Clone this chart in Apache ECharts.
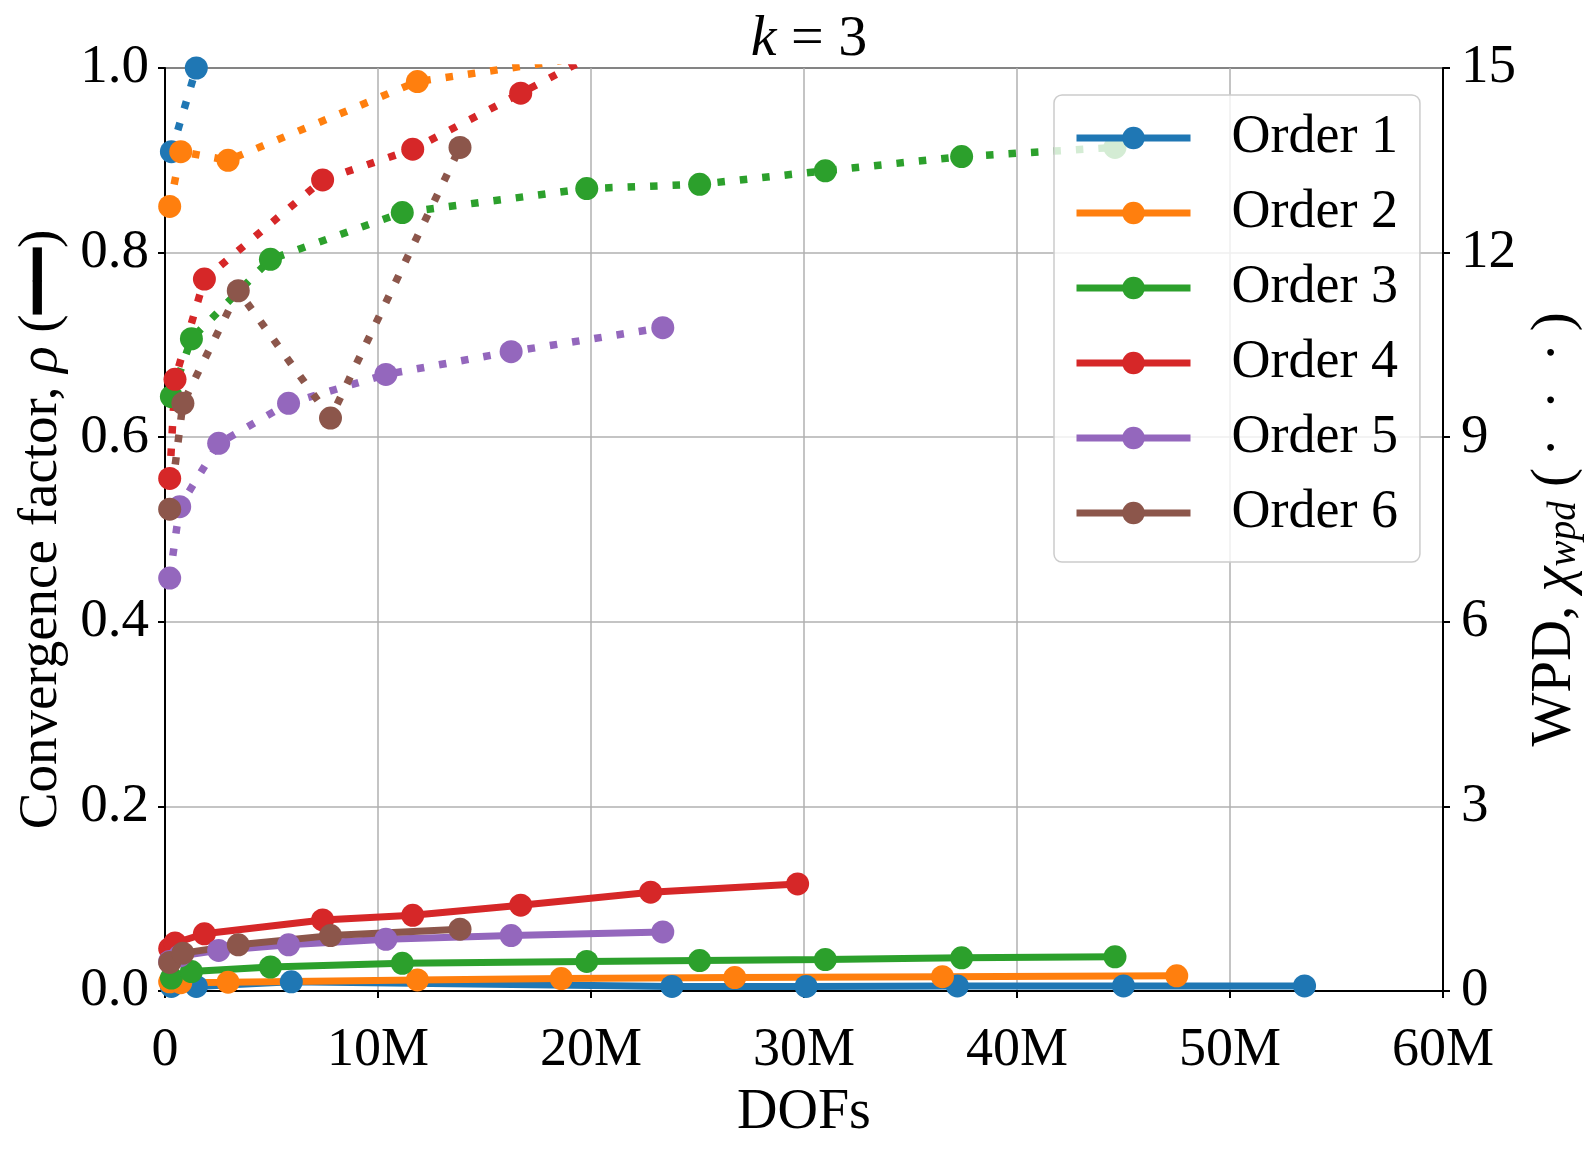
<!DOCTYPE html>
<html>
<head>
<meta charset="utf-8">
<title>k = 3</title>
<script src="https://cdn.jsdelivr.net/npm/echarts@6/dist/echarts.min.js"></script>
<style>
  html, body { margin: 0; padding: 0; background: #fff; }
  #main { width: 1596px; height: 1154px; }
</style>
</head>
<body>
<div id="main"></div>
<script>
// DOFs in millions; rho = convergence factor (left axis), wpd = WPD (right axis)
var names = ['Order 1', 'Order 2', 'Order 3', 'Order 4', 'Order 5', 'Order 6'];
var colors = ['#1f77b4', '#ff7f0e', '#2ca02c', '#d62728', '#9467bd', '#8c564b'];

var dofs1 = [0.3, 1.47, 5.93, 23.8, 30.1, 37.2, 45.0, 53.5];
var rho1 = [0.005, 0.005, 0.010, 0.005, 0.005, 0.0055, 0.0055, 0.0055];
var wpd1 = [13.64, 15.0, null, null, null, null, null, null];

var dofs2 = [0.22, 0.74, 2.96, 11.85, 18.6, 26.75, 36.5, 47.5];
var rho2 = [0.010, 0.009, 0.0095, 0.012, 0.0135, 0.0145, 0.0155, 0.0165];
var wpd2 = [12.75, 13.64, 13.50, 14.78, 15.12, null, null, null];

var dofs3 = [0.3, 1.24, 4.95, 11.14, 19.8, 25.1, 31.0, 37.4, 44.6];
var rho3 = [0.014, 0.021, 0.026, 0.030, 0.032, 0.033, 0.034, 0.036, 0.037];
var wpd3 = [9.66, 10.6, 11.89, 12.65, 13.04, 13.11, 13.33, 13.56, 13.71];

var dofs4 = [0.22, 0.47, 1.85, 7.4, 11.63, 16.7, 22.8, 29.7];
var rho4 = [0.046, 0.052, 0.062, 0.077, 0.082, 0.093, 0.107, 0.116];
var wpd4 = [8.33, 9.94, 11.57, 13.18, 13.68, 14.59, 15.7, null];

var dofs5 = [0.22, 0.69, 2.52, 5.8, 10.37, 16.25, 23.37];
var rho5 = [0.032, 0.038, 0.044, 0.050, 0.056, 0.060, 0.064];
var wpd5 = [6.71, 7.87, 8.90, 9.55, 10.02, 10.39, 10.78];

var dofs6 = [0.22, 0.84, 3.44, 7.77, 13.85];
var rho6 = [0.031, 0.041, 0.050, 0.060, 0.067];
var wpd6 = [7.83, 9.55, 11.38, 9.31, 13.71];

var dofs = [dofs1, dofs2, dofs3, dofs4, dofs5, dofs6];
var rho = [rho1, rho2, rho3, rho4, rho5, rho6];
var wpd = [wpd1, wpd2, wpd3, wpd4, wpd5, wpd6];

var font = 'Liberation Serif';

function pairs(xs, ys) {
  return xs.map(function (x, i) { return [x, ys[i] === null ? '-' : ys[i]]; });
}

var series = [];
// solid: convergence factor
names.forEach(function (name, i) {
  series.push({
    name: name,
    type: 'line',
    yAxisIndex: 0,
    data: pairs(dofs[i], rho[i]),
    symbol: 'circle',
    symbolSize: 23,
    color: colors[i],
    lineStyle: { width: 7, color: colors[i] },
    z: 2,
    animation: false
  });
});
// dotted: WPD (drawn over the solid ones, like the twin axis)
names.forEach(function (name, i) {
  series.push({
    name: name,
    type: 'line',
    yAxisIndex: 1,
    data: pairs(dofs[i], wpd[i]),
    symbol: 'circle',
    symbolSize: 23,
    color: colors[i],
    lineStyle: { width: 7.5, color: colors[i], type: [7.5, 15], cap: 'butt' },
    z: 3,
    animation: false
  });
});

var chart = echarts.init(document.getElementById('main'));
chart.setOption({
  backgroundColor: '#fff',
  animation: false,
  title: {
    text: '{it|k} = 3',
    left: 804,
    textAlign: 'center',
    top: 6,
    textStyle: {
      fontFamily: font, fontSize: 58, fontWeight: 'normal', color: '#000',
      rich: { it: { fontFamily: font, fontSize: 58, fontStyle: 'italic', color: '#000' } }
    }
  },
  grid: {
    left: 165, right: 153, top: 68, bottom: 163,
    show: true, borderColor: '#000', borderWidth: 2
  },
  legend: {
    data: names,
    orient: 'vertical',
    left: 1054,
    top: 95,
    itemWidth: 114,
    itemHeight: 28,
    itemGap: 15,
    padding: [13, 22, 19, 19],
    backgroundColor: 'rgba(255,255,255,0.8)',
    borderColor: '#cccccc',
    borderWidth: 1.5,
    borderRadius: 8,
    lineStyle: { width: 7 },
    textStyle: {
      fontFamily: font, fontSize: 54, color: '#000', lineHeight: 60,
      padding: [0, 0, 0, 36]
    }
  },
  xAxis: {
    type: 'value',
    min: 0, max: 60, interval: 10,
    name: 'DOFs',
    nameLocation: 'middle',
    nameGap: 94,
    nameTextStyle: { fontFamily: font, fontSize: 56, color: '#000' },
    axisLine: { lineStyle: { color: '#000', width: 2 } },
    axisTick: { show: true, length: 7, lineStyle: { color: '#000', width: 2 } },
    axisLabel: {
      fontFamily: font, fontSize: 54, color: '#000', margin: 33,
      formatter: function (v) { return v === 0 ? '0' : v + 'M'; }
    },
    splitLine: { show: true, lineStyle: { color: '#b0b0b0', width: 1.5 } }
  },
  yAxis: [{
    type: 'value',
    min: 0, max: 1, interval: 0.2,
    position: 'left',
    name: 'Convergence factor, {it|ρ} ({b|━━})',
    nameLocation: 'middle',
    nameRotate: 90,
    nameGap: 96,
    nameTextStyle: {
      fontFamily: font, fontSize: 55, color: '#000',
      rich: {
        it: { fontFamily: font, fontSize: 55, fontStyle: 'italic', color: '#000' },
        b: { fontFamily: 'DejaVu Sans', fontSize: 55, color: '#000' }
      }
    },
    axisLine: { show: true, lineStyle: { color: '#000', width: 2 } },
    axisTick: { show: true, length: 7, lineStyle: { color: '#000', width: 2 } },
    axisLabel: {
      fontFamily: font, fontSize: 55, color: '#000', margin: 16,
      formatter: function (v) { return v.toFixed(1); }
    },
    splitLine: { show: true, lineStyle: { color: '#b0b0b0', width: 1.5 } }
  }, {
    type: 'value',
    min: 0, max: 15, interval: 3,
    position: 'right',
    name: 'WPD, {it|χ}{sub|wpd} (\u2009·\u2002·\u2002·\u2009)',
    nameLocation: 'middle',
    nameRotate: 90,
    nameGap: 70,
    nameTextStyle: {
      fontFamily: font, fontSize: 57, color: '#000',
      rich: {
        it: { fontFamily: font, fontSize: 57, fontStyle: 'italic', color: '#000' },
        sub: { fontFamily: font, fontSize: 39, fontStyle: 'italic', color: '#000', verticalAlign: 'bottom', padding: [18, 0, 0, 0] }
      }
    },
    axisLine: { show: true, lineStyle: { color: '#000', width: 2 } },
    axisTick: { show: true, length: 7, lineStyle: { color: '#000', width: 2 } },
    axisLabel: { fontFamily: font, fontSize: 55, color: '#000', margin: 18 },
    splitLine: { show: false }
  }],
  series: series
});
</script>
</body>
</html>
